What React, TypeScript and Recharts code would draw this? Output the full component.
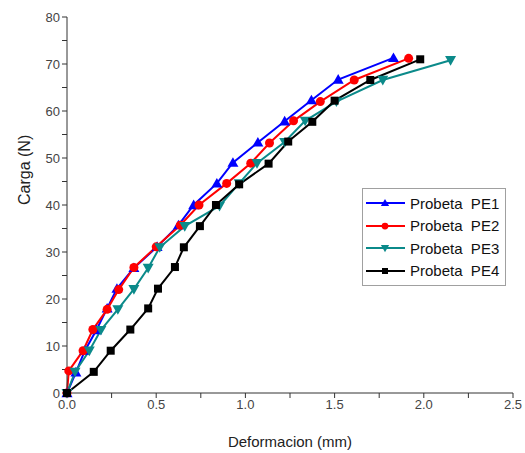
import React from "react";
import {
  LineChart,
  Line,
  XAxis,
  YAxis,
} from "recharts";

const pe1X = [0, 0.05, 0.1, 0.165, 0.225, 0.28, 0.375, 0.505, 0.625, 0.71, 0.84, 0.93, 1.07, 1.22, 1.37, 1.52, 1.83];
const pe1Y = [0, 4.4, 9, 13.4, 18, 22.2, 26.6, 31.1, 35.7, 40, 44.6, 49, 53.3, 57.8, 62.3, 66.7, 71.3];

const pe2X = [0, 0.01, 0.09, 0.145, 0.225, 0.29, 0.375, 0.5, 0.635, 0.74, 0.895, 1.03, 1.135, 1.27, 1.42, 1.61, 1.915];
const pe2Y = [0, 4.7, 9, 13.5, 17.8, 22, 26.7, 31.1, 35.7, 40, 44.6, 48.9, 53.2, 57.9, 62, 66.6, 71.2];

const pe3X = [0, 0.045, 0.125, 0.19, 0.285, 0.375, 0.455, 0.52, 0.66, 0.855, 0.965, 1.065, 1.22, 1.335, 1.51, 1.77, 2.15];
const pe3Y = [0, 4.5, 9, 13.4, 17.8, 22.1, 26.6, 31, 35.5, 39.8, 44.6, 48.9, 53.4, 57.9, 62, 66.6, 70.8];

const pe4X = [0, 0.15, 0.245, 0.355, 0.455, 0.51, 0.605, 0.655, 0.745, 0.835, 0.965, 1.13, 1.24, 1.375, 1.5, 1.7, 1.98];
const pe4Y = [0, 4.5, 9, 13.5, 18, 22.2, 26.8, 31, 35.5, 40, 44.4, 48.8, 53.5, 57.7, 62.2, 66.6, 71];

const xTicks = [0, 0.25, 0.5, 0.75, 1, 1.25, 1.5, 1.75, 2, 2.25, 2.5];
const yTicks = [0, 5, 10, 15, 20, 25, 30, 35, 40, 45, 50, 55, 60, 65, 70, 75, 80];

const toPoints = (xs: number[], ys: number[]) => xs.map((x, i) => ({ x, y: ys[i] }));

const series = [
  { name: "Probeta  PE1", color: "#0000ff", shape: "up", data: toPoints(pe1X, pe1Y) },
  { name: "Probeta  PE2", color: "#ff0000", shape: "circle", data: toPoints(pe2X, pe2Y) },
  { name: "Probeta  PE3", color: "#0b8a8a", shape: "down", data: toPoints(pe3X, pe3Y) },
  { name: "Probeta  PE4", color: "#000000", shape: "square", data: toPoints(pe4X, pe4Y) },
];

function Marker({ cx, cy, shape, color, s = 1 }: any) {
  if (cx == null || cy == null) return null;
  if (shape === "up") {
    const r = 5.5 * s;
    return <polygon points={`${cx},${cy - r} ${cx - r},${cy + r * 0.75} ${cx + r},${cy + r * 0.75}`} fill={color} />;
  }
  if (shape === "down") {
    const r = 5.5 * s;
    return <polygon points={`${cx},${cy + r} ${cx - r},${cy - r * 0.75} ${cx + r},${cy - r * 0.75}`} fill={color} />;
  }
  if (shape === "circle") {
    return <circle cx={cx} cy={cy} r={4.5 * s} fill={color} />;
  }
  const h = 4 * s;
  return <rect x={cx - h} y={cy - h} width={h * 2} height={h * 2} fill={color} />;
}

function LegendBox() {
  return (
    <div
      style={{
        position: "absolute",
        left: 362,
        top: 188,
        width: 144,
        boxSizing: "border-box",
        border: "1px solid #a0a0a0",
        background: "#fff",
        padding: "3px 0 3px 2px",
      }}
    >
      {series.map((s) => (
        <div key={s.name} style={{ display: "flex", alignItems: "center", height: 22.5 }}>
          <svg width={42} height={14}>
            <line x1={1} y1={7} x2={40} y2={7} stroke={s.color} strokeWidth={2} />
            <Marker cx={20} cy={7} shape={s.shape} color={s.color} s={0.75} />
          </svg>
          <span style={{ whiteSpace: "pre", fontSize: 15, color: "#111", marginLeft: 3 }}>{s.name}</span>
        </div>
      ))}
    </div>
  );
}

const fmtX = (v: number) => (Math.round(v * 100) % 50 === 0 ? v.toFixed(1) : "");
const fmtY = (v: number) => (v % 10 === 0 ? String(v) : "");

export default function App() {
  return (
    <div style={{ position: "absolute", left: 0, top: 0, width: 525, height: 453, background: "#fff", fontFamily: "'Liberation Sans', Arial, sans-serif" }}>
      <LineChart width={525} height={453} margin={{ top: 17, right: 12, left: 0, bottom: 0 }}>
        <XAxis
          type="number"
          dataKey="x"
          domain={[0, 2.5]}
          ticks={xTicks}
          tickFormatter={fmtX}
          interval={0}
          height={60}
          stroke="#333"
          tick={{ fill: "#444", fontSize: 13 }}
          tickSize={5}
          label={{ value: "Deformacion (mm)", position: "insideBottom", offset: 6, fill: "#222", fontSize: 15 }}
        />
        <YAxis
          type="number"
          dataKey="y"
          domain={[0, 80]}
          ticks={yTicks}
          tickFormatter={fmtY}
          interval={0}
          width={67}
          stroke="#333"
          tick={{ fill: "#444", fontSize: 13 }}
          tickSize={5}
          label={{ value: "Carga (N)", angle: -90, position: "insideLeft", offset: 24, fill: "#222", fontSize: 16 }}
        />
        {series.map((s) => (
          <Line
            key={s.name}
            data={s.data}
            dataKey="y"
            name={s.name}
            type="linear"
            stroke={s.color}
            strokeWidth={2}
            isAnimationActive={false}
            dot={(p: any) => <Marker key={`${s.name}-${p.index}`} cx={p.cx} cy={p.cy} shape={s.shape} color={s.color} />}
            activeDot={false}
          />
        ))}
      </LineChart>
      <LegendBox />
    </div>
  );
}
